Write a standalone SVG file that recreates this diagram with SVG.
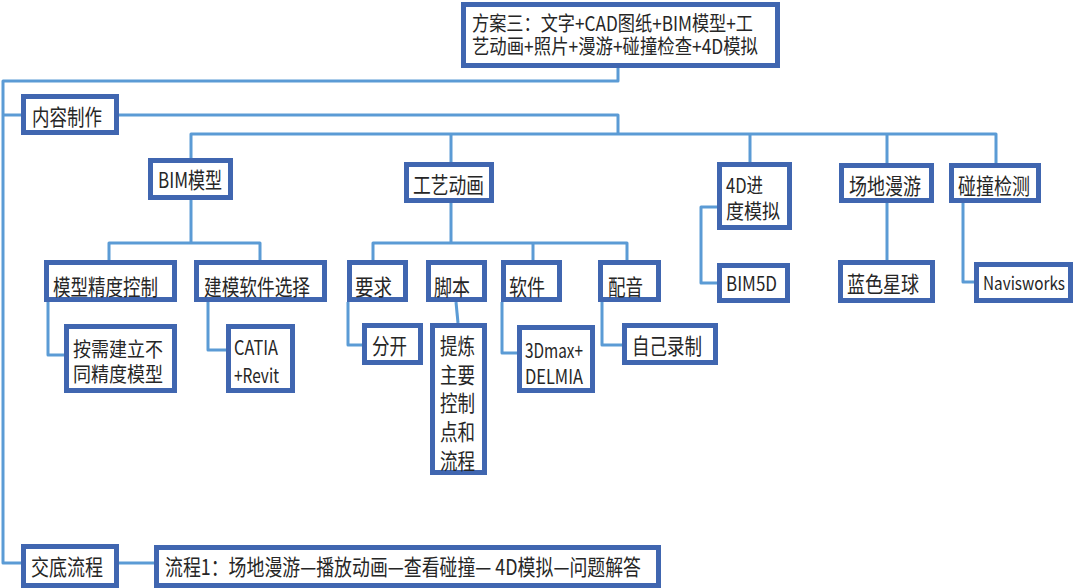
<svg xmlns="http://www.w3.org/2000/svg" width="1080" height="588" viewBox="0 0 1080 588">
<style>
.box{fill:#ffffff;stroke:#4066B0;stroke-width:5}
.t{font-family:"Noto Sans CJK SC","Liberation Sans",sans-serif;font-size:22px;fill:#262626;dominant-baseline:central}
.l{font-size:20px}
.m{font-size:20px}
.c{fill:none;stroke:#5B9BD5;stroke-width:3;stroke-linejoin:round;stroke-linecap:butt}
</style>
<rect width="1080" height="588" fill="#ffffff"/>
<g id="connectors">
<path class="c" d="M618,68 V81 H3 V563 H21"/>
<path class="c" d="M3,115 H21"/>
<path class="c" d="M119,563 H154"/>
<path class="c" d="M119,115 H618 V134"/>
<path class="c" d="M191,158 V134 H996 V163"/>
<path class="c" d="M451,134 V162"/>
<path class="c" d="M750,134 V162"/>
<path class="c" d="M887,134 V163"/>
<path class="c" d="M191,200 V243"/>
<path class="c" d="M109,260 V243 H260 V260"/>
<path class="c" d="M451,203 V243"/>
<path class="c" d="M373,260 V243 H627 V260"/>
<path class="c" d="M533,243 V260"/>
<path class="c" d="M48,302 V355 H64"/>
<path class="c" d="M208,302 V350 H226"/>
<path class="c" d="M348,302 V345 H362"/>
<path class="c" d="M456,302 L458,323"/>
<path class="c" d="M502,302 V353 H517"/>
<path class="c" d="M602,302 V345 H622"/>
<path class="c" d="M717,207 H701 V283 H717"/>
<path class="c" d="M887,203 V260"/>
<path class="c" d="M963,203 V282 H974"/>
</g>
<g id="n-top">
<rect class="box" x="463.5" y="4.5" width="314" height="61"/>
<text class="t m" x="472" y="22" textLength="281" lengthAdjust="spacingAndGlyphs">方案三：文字+CAD图纸+BIM模型+工</text>
<text class="t m" x="472" y="45" textLength="286" lengthAdjust="spacingAndGlyphs">艺动画+照片+漫游+碰撞检查+4D模拟</text>
</g>
<g id="n-neirong">
<rect class="box" x="23.5" y="96.5" width="93" height="36"/>
<text class="t" x="32" y="115" textLength="70" lengthAdjust="spacingAndGlyphs">内容制作</text>
</g>
<g id="n-bim">
<rect class="box" x="150.5" y="160.5" width="80" height="37"/>
<text class="t" x="158" y="178" textLength="64" lengthAdjust="spacingAndGlyphs">BIM模型</text>
</g>
<g id="n-gongyi">
<rect class="box" x="406.5" y="164.5" width="85" height="36"/>
<text class="t" x="413" y="183" textLength="71" lengthAdjust="spacingAndGlyphs">工艺动画</text>
</g>
<g id="n-4d">
<rect class="box" x="719.5" y="164.5" width="70" height="63"/>
<text class="t m" x="726" y="184" textLength="37" lengthAdjust="spacingAndGlyphs">4D进</text>
<text class="t m" x="726" y="210" textLength="54" lengthAdjust="spacingAndGlyphs">度模拟</text>
</g>
<g id="n-changdi">
<rect class="box" x="841.5" y="165.5" width="90" height="35"/>
<text class="t" x="849" y="184" textLength="72" lengthAdjust="spacingAndGlyphs">场地漫游</text>
</g>
<g id="n-pengzhuang">
<rect class="box" x="951.5" y="165.5" width="87" height="35"/>
<text class="t" x="958" y="184" textLength="72" lengthAdjust="spacingAndGlyphs">碰撞检测</text>
</g>
<g id="n-jingdu">
<rect class="box" x="46.5" y="262.5" width="128" height="37"/>
<text class="t" x="53" y="285" textLength="105" lengthAdjust="spacingAndGlyphs">模型精度控制</text>
</g>
<g id="n-ruanjian-xz">
<rect class="box" x="196.5" y="262.5" width="128" height="37"/>
<text class="t" x="204" y="285" textLength="106" lengthAdjust="spacingAndGlyphs">建模软件选择</text>
</g>
<g id="n-yaoqiu">
<rect class="box" x="349.5" y="262.5" width="56" height="37"/>
<text class="t" x="355" y="285" textLength="37" lengthAdjust="spacingAndGlyphs">要求</text>
</g>
<g id="n-jiaoben">
<rect class="box" x="428.5" y="262.5" width="56" height="37"/>
<text class="t" x="434" y="285" textLength="36" lengthAdjust="spacingAndGlyphs">脚本</text>
</g>
<g id="n-ruanjian">
<rect class="box" x="503.5" y="262.5" width="56" height="37"/>
<text class="t" x="509" y="285" textLength="36" lengthAdjust="spacingAndGlyphs">软件</text>
</g>
<g id="n-peiyin">
<rect class="box" x="600.5" y="262.5" width="58" height="37"/>
<text class="t" x="608" y="285" textLength="35" lengthAdjust="spacingAndGlyphs">配音</text>
</g>
<g id="n-anxu">
<rect class="box" x="66.5" y="326.5" width="108" height="64"/>
<text class="t m" x="73" y="348" textLength="90" lengthAdjust="spacingAndGlyphs">按需建立不</text>
<text class="t m" x="73" y="373" textLength="90" lengthAdjust="spacingAndGlyphs">同精度模型</text>
</g>
<g id="n-catia">
<rect class="box" x="228.5" y="326.5" width="64" height="64"/>
<text class="t l" x="234" y="346" textLength="44" lengthAdjust="spacingAndGlyphs">CATIA</text>
<text class="t l" x="234" y="374" textLength="45" lengthAdjust="spacingAndGlyphs">+Revit</text>
</g>
<g id="n-fenkai">
<rect class="box" x="364.5" y="325.5" width="56" height="37"/>
<text class="t" x="372" y="344" textLength="35" lengthAdjust="spacingAndGlyphs">分开</text>
</g>
<g id="n-tilian">
<rect class="box" x="432.5" y="325.5" width="52" height="147"/>
<text class="t" x="440" y="344" textLength="35" lengthAdjust="spacingAndGlyphs">提炼</text>
<text class="t" x="440" y="372.7" textLength="35" lengthAdjust="spacingAndGlyphs">主要</text>
<text class="t" x="440" y="401.4" textLength="35" lengthAdjust="spacingAndGlyphs">控制</text>
<text class="t" x="440" y="430.1" textLength="35" lengthAdjust="spacingAndGlyphs">点和</text>
<text class="t" x="440" y="458.8" textLength="35" lengthAdjust="spacingAndGlyphs">流程</text>
</g>
<g id="n-3dmax">
<rect class="box" x="519.5" y="327.5" width="73" height="63"/>
<text class="t l" x="525" y="349" textLength="58" lengthAdjust="spacingAndGlyphs">3Dmax+</text>
<text class="t l" x="525" y="375" textLength="58" lengthAdjust="spacingAndGlyphs">DELMIA</text>
</g>
<g id="n-luzhi">
<rect class="box" x="624.5" y="325.5" width="91" height="37"/>
<text class="t" x="632" y="344" textLength="70" lengthAdjust="spacingAndGlyphs">自己录制</text>
</g>
<g id="n-bim5d">
<rect class="box" x="719.5" y="265.5" width="68" height="35"/>
<text class="t l" x="726" y="282" textLength="51" lengthAdjust="spacingAndGlyphs">BIM5D</text>
</g>
<g id="n-lanse">
<rect class="box" x="840.5" y="262.5" width="92" height="38"/>
<text class="t" x="847" y="282" textLength="72" lengthAdjust="spacingAndGlyphs">蓝色星球</text>
</g>
<g id="n-navis">
<rect class="box" x="976.5" y="264.5" width="94" height="36"/>
<text class="t" x="983" y="282" style="font-size:18px" textLength="82" lengthAdjust="spacingAndGlyphs">Navisworks</text>
</g>
<g id="n-jiaodi">
<rect class="box" x="23.5" y="546.5" width="93" height="39"/>
<text class="t" x="31" y="565" textLength="72" lengthAdjust="spacingAndGlyphs">交底流程</text>
</g>
<g id="n-liucheng">
<rect class="box" x="156.5" y="547.5" width="502" height="38"/>
<text class="t" x="165" y="565" textLength="476" lengthAdjust="spacingAndGlyphs">流程1：场地漫游—播放动画—查看碰撞— 4D模拟—问题解答</text>
</g>
</svg>
